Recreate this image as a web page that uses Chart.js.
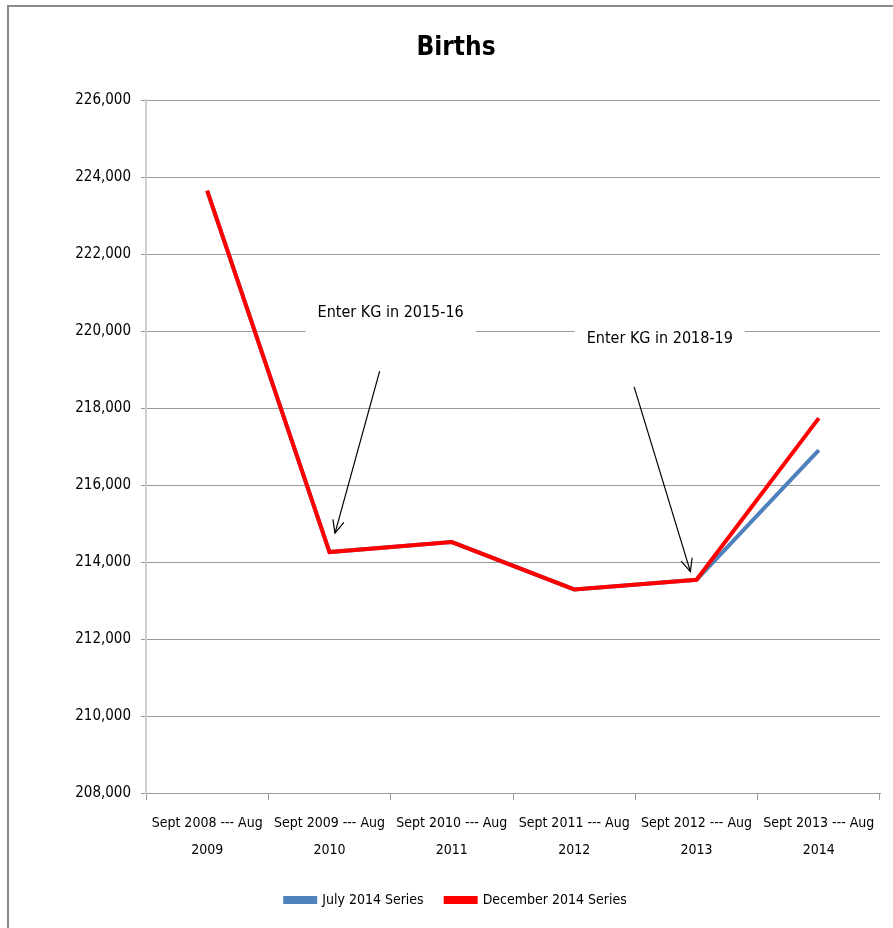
<!DOCTYPE html>
<html>
<head>
<meta charset="utf-8">
<script src="https://cdn.jsdelivr.net/npm/chart.js@4.4.0/dist/chart.umd.min.js"></script>
<style>
  html, body { margin: 0; padding: 0; background: #fff; overflow: hidden; }
  body { width: 893px; height: 928px; position: relative; }
  #frame { position: absolute; left: 7px; top: 5px; width: 1000px; height: 1000px;
           border-top: 2px solid #8a8a8a; border-left: 2px solid #8a8a8a; }
  #wrap { position: absolute; left: 9px; top: 7px; width: 896px; height: 921px; }
</style>
</head>
<body>
<div id="frame"></div>
<div id="wrap"><canvas id="c"></canvas></div>
<script>
const categories = [
  ["Sept 2008 --- Aug", "2009"],
  ["Sept 2009 --- Aug", "2010"],
  ["Sept 2010 --- Aug", "2011"],
  ["Sept 2011 --- Aug", "2012"],
  ["Sept 2012 --- Aug", "2013"],
  ["Sept 2013 --- Aug", "2014"]
];
const july2014 = [223650, 214260, 214520, 213290, 213540, 216910];
const dec2014  = [223650, 214260, 214520, 213290, 213540, 217740];
const seriesNames = ["July 2014 Series", "December 2014 Series"];
const yMin = 208000, yMax = 226000, yStep = 2000;

// annotations in data coordinates (category index, value)
const notes = [
  { text: "Enter KG in 2015-16", x: 1.50, y: 220480, from: [1.41, 218960], to: [1.045, 214750] },
  { text: "Enter KG in 2018-19", x: 3.70, y: 219800, from: [3.49, 218550], to: [3.95, 213750] }
];

const FONT = "'DejaVu Sans Condensed', 'Liberation Sans Narrow', sans-serif";

const notePlugin = {
  id: 'notes',
  beforeDatasetsDraw(chart) {
    const ctx = chart.ctx, xs = chart.scales.x, ys = chart.scales.y;
    ctx.save();
    ctx.font = "16px " + FONT;
    notes.forEach(n => {
      const px = xs.getPixelForValue(n.x), py = ys.getPixelForValue(n.y);
      const w = ctx.measureText(n.text).width + 24;
      ctx.fillStyle = '#fff';
      ctx.fillRect(px - w / 2, py - 18, w, 40);
      ctx.fillStyle = '#000';
      ctx.textAlign = 'center';
      ctx.textBaseline = 'middle';
      ctx.fillText(n.text, px, py);
    });
    ctx.restore();
  },
  afterDatasetsDraw(chart) {
    const ctx = chart.ctx, xs = chart.scales.x, ys = chart.scales.y;
    ctx.save();
    ctx.strokeStyle = '#000';
    ctx.lineWidth = 1.2;
    notes.forEach(n => {
      const x1 = xs.getPixelForValue(n.from[0]), y1 = ys.getPixelForValue(n.from[1]);
      const x2 = xs.getPixelForValue(n.to[0]), y2 = ys.getPixelForValue(n.to[1]);
      ctx.beginPath(); ctx.moveTo(x1, y1); ctx.lineTo(x2, y2); ctx.stroke();
      const a = Math.atan2(y2 - y1, x2 - x1), L = 14, s = 0.42;
      ctx.beginPath();
      ctx.moveTo(x2 - L * Math.cos(a - s), y2 - L * Math.sin(a - s));
      ctx.lineTo(x2, y2);
      ctx.lineTo(x2 - L * Math.cos(a + s), y2 - L * Math.sin(a + s));
      ctx.stroke();
    });
    ctx.restore();
  }
};

new Chart(document.getElementById('c'), {
  type: 'line',
  data: {
    labels: categories,
    datasets: [
      { label: seriesNames[0], data: july2014, borderColor: '#4f81bd', backgroundColor: '#4f81bd',
        borderWidth: 4, pointRadius: 0, tension: 0, order: 1 },
      { label: seriesNames[1], data: dec2014, borderColor: '#ff0000', backgroundColor: '#ff0000',
        borderWidth: 4, pointRadius: 0, tension: 0, order: 0 }
    ]
  },
  plugins: [notePlugin],
  options: {
    responsive: true,
    maintainAspectRatio: false,
    animation: false,
    layout: { padding: { left: 23, right: 25, top: 0, bottom: 11 } },
    plugins: {
      title: { display: true, text: 'Births', color: '#000',
               font: { family: FONT, size: 26, weight: 'bold' },
               padding: { top: 26, bottom: 36 } },
      legend: { position: 'bottom',
                labels: { color: '#000', font: { family: FONT, size: 14 },
                          boxWidth: 30, boxHeight: 4, padding: 22,
                          sort: (a, b) => a.datasetIndex - b.datasetIndex } },
      tooltip: { enabled: false }
    },
    scales: {
      x: {
        offset: true,
        grid: { offset: true, drawOnChartArea: false, drawTicks: true, tickLength: 7, color: '#999' },
        border: { color: '#999', width: 1 },
        ticks: { color: '#000', font: { family: FONT, size: 14, lineHeight: 1.9 }, padding: 10,
                 maxRotation: 0, autoSkip: false },
        afterFit(scale) { scale.height = 78; }
      },
      y: {
        min: yMin, max: yMax,
        grid: { color: '#999', lineWidth: 1, tickLength: 5, drawTicks: true },
        border: { color: '#cfcfcf', width: 2 },
        ticks: { stepSize: yStep, color: '#000', font: { family: FONT, size: 15 }, padding: 10,
                 callback: v => v.toLocaleString('en-US') },
        afterFit(scale) { scale.width = 114; }
      }
    }
  }
});
</script>
</body>
</html>
